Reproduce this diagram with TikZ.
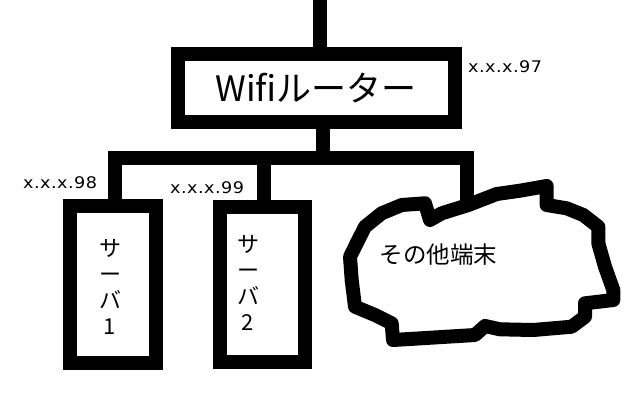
\documentclass[tikz,border=0pt]{standalone}
\usepackage{fontspec}
\setmainfont{Noto Sans CJK JP}
\newfontfamily\lblfont{DejaVu Sans}[FakeStretch=1.1, LetterSpace=3]
\tikzset{
  thick box/.style={draw=black, line width=14pt, fill=white, rectangle, inner sep=0pt},
  wire/.style={draw=black, line width=14pt},
  iplabel/.style={anchor=west, inner sep=0pt, font=\lblfont\fontsize{16}{18}\selectfont},
  srvtext/.style={align=center, inner sep=0pt, font=\fontsize{22}{26}\selectfont},
}
\begin{document}
\begin{tikzpicture}[x=1pt, y=-1pt]
\useasboundingbox[fill=white] (0,0) rectangle (640,400);

% router
\node[thick box, minimum width=277pt, minimum height=67.5pt, font=\fontsize{35}{40}\selectfont] (router) at (316,87.75) {Wifiルーター};
\coordinate (uplink) at (320,0);
\draw[wire] (uplink) -- (uplink |- router.north);

% servers
\node[thick box, minimum width=86pt, minimum height=157pt] (s1) at (112.5,284) {};
\node[thick box, minimum width=85pt, minimum height=154.5pt] (s2) at (262,284.25) {};
\node[srvtext] (s1t) at (110,286.5) {サ\\ー\\バ\\1};
\node[srvtext] (s2t) at (248,283) {サ\\ー\\バ\\2};

% cloud
\draw[black, line width=14pt, line join=round, fill=white]
  (350,256.7) -- (358.3,240) -- (365,226.7) -- (381.7,213.3) -- (401.7,205)
  -- (425,203.3) -- (430,220) -- (441.7,213.3) -- (468.3,205) -- (496.7,194)
  -- (520,190.7) -- (546.7,186) -- (546.7,205) -- (566.7,208.3) -- (583.3,215)
  -- (598.3,226.7) -- (598.3,243.3) -- (605,266.7) -- (613.3,290) -- (613.3,300)
  -- (585,303.3) -- (585,316.7) -- (571.7,326.7) -- (533.3,330) -- (500,329.3)
  -- (485,326) -- (475,335) -- (393,340) -- (391.7,323.3) -- (375,315)
  -- (355,306.7) -- (351.7,280) -- cycle;
\node[inner sep=0pt, font=\fontsize{23.5}{26}\selectfont] (others) at (438.5,255) {その他端末};
\coordinate (cloudtop) at (466.5,203);

% distribution bus
\coordinate (rdrop) at (323,0);
\coordinate (bus) at (323,157.5);
\draw[wire] (rdrop |- router.south) -- (bus);
\draw[wire, line join=miter] (114.5,0 |- s1.north) -- (114.5,157.5) -- (466.5,157.5) -- (cloudtop);
\draw[wire] (263.5,157.5) -- (263.5,0 |- s2.north);

% labels
\node[iplabel] (ip97) at (468,67) {x.x.x.97};
\node[iplabel] (ip98) at (23,183) {x.x.x.98};
\node[iplabel] (ip99) at (170,188) {x.x.x.99};
\end{tikzpicture}
\end{document}
